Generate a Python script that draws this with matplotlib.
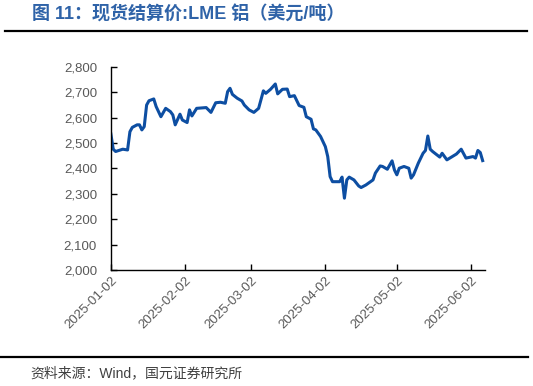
import matplotlib
matplotlib.use("Agg")
import matplotlib.pyplot as plt
import matplotlib.dates as mdates
import matplotlib.ticker as mticker
import numpy as np
import pandas as pd

plt.rcParams['font.family'] = ['Liberation Sans', 'Noto Sans CJK SC', 'DejaVu Sans']

# LME aluminium cash settlement, USD/t
dates = ['01-02', '01-03', '01-04', '01-07', '01-09', '01-10', '01-11', '01-13', '01-14', '01-15',
         '01-16', '01-17', '01-18', '01-20', '01-21', '01-23', '01-25', '01-27', '01-28', '01-29',
         '01-31', '02-01', '02-03', '02-04', '02-05', '02-07', '02-11', '02-13', '02-15', '02-17',
         '02-19', '02-20', '02-21', '02-22', '02-24', '02-26', '02-27', '03-01', '03-03', '03-05',
         '03-07', '03-08', '03-10', '03-12', '03-13', '03-15', '03-17', '03-18', '03-20', '03-22',
         '03-24', '03-25', '03-27', '03-28', '03-29', '03-31', '04-02', '04-03', '04-04', '04-05',
         '04-08', '04-09', '04-10', '04-11', '04-12', '04-14', '04-16', '04-17', '04-19', '04-22',
         '04-23', '04-25', '04-26', '04-28', '04-30', '05-01', '05-02', '05-03', '05-05', '05-07',
         '05-08', '05-09', '05-11', '05-13', '05-14', '05-15', '05-16', '05-17', '05-20', '05-21',
         '05-23', '05-27', '05-29', '05-31', '06-03', '06-04', '06-05', '06-06', '06-07']
prices = [2536, 2476, 2467, 2476, 2473, 2545, 2562, 2572, 2572, 2552,
          2565, 2650, 2667, 2674, 2644, 2604, 2637, 2624, 2611, 2572,
          2614, 2591, 2581, 2631, 2607, 2637, 2640, 2621, 2659, 2661,
          2657, 2703, 2716, 2692, 2677, 2666, 2650, 2631, 2621, 2637,
          2706, 2696, 2712, 2733, 2694, 2712, 2713, 2683, 2687, 2648,
          2641, 2604, 2594, 2556, 2552, 2526, 2486, 2447, 2368, 2348,
          2348, 2366, 2283, 2355, 2366, 2355, 2331, 2325, 2335, 2355,
          2382, 2410, 2408, 2397, 2430, 2394, 2375, 2401, 2408, 2401,
          2362, 2375, 2421, 2460, 2471, 2528, 2476, 2467, 2445, 2460,
          2434, 2457, 2476, 2441, 2447, 2441, 2471, 2463, 2431]
tick_dates = ['2025-01-02', '2025-02-02', '2025-03-02', '2025-04-02', '2025-05-02', '2025-06-02']

x = pd.to_datetime(['2025-' + d for d in dates])

fig = plt.figure(figsize=(5.33, 3.86), dpi=100)
ax = fig.add_axes([0.208, 0.3005, 0.702, 0.526])

ax.plot(x, prices, color='#0D4EA2', linewidth=2.2, solid_joinstyle='round')

ax.set_ylim(2000, 2800)
ax.yaxis.set_major_locator(mticker.MultipleLocator(100))
ax.yaxis.set_major_formatter(mticker.StrMethodFormatter('{x:,.0f}'))
ax.set_xlim(pd.Timestamp('2025-01-02'), pd.Timestamp('2025-06-08'))
ax.set_xticks(pd.to_datetime(tick_dates))
ax.xaxis.set_major_formatter(mdates.DateFormatter('%Y-%m-%d'))

ax.spines['top'].set_visible(False)
ax.spines['right'].set_visible(False)
for s in ['left', 'bottom']:
    ax.spines[s].set_linewidth(1.0)
    ax.spines[s].set_color('black')
ax.tick_params(axis='both', direction='in', length=4, width=1, colors='black',
               labelcolor='#595959', labelsize=9.5)
ax.tick_params(axis='y', pad=10)
plt.setp(ax.get_xticklabels(), rotation=45, ha='right', rotation_mode='anchor')

# title, rules and source
fig.text(0.06, 0.961, '图 11：现货结算价:LME 铝（美元/吨）', color='#2F63A8', fontsize=13,
         fontweight='bold', va='center', ha='left',
         family=['Liberation Sans', 'Noto Sans CJK SC'])
fig.add_artist(plt.Line2D([0.01, 0.988], [0.919, 0.919], color='black', linewidth=1.6))
fig.add_artist(plt.Line2D([0.0, 0.99], [0.075, 0.075], color='black', linewidth=1.6))
fig.text(0.056, 0.033, '资料来源：Wind，国元证券研究所', color='#404040', fontsize=10,
         va='center', ha='left', family=['Liberation Sans', 'Noto Sans CJK SC'])

fig.savefig('out.png', dpi=100)
